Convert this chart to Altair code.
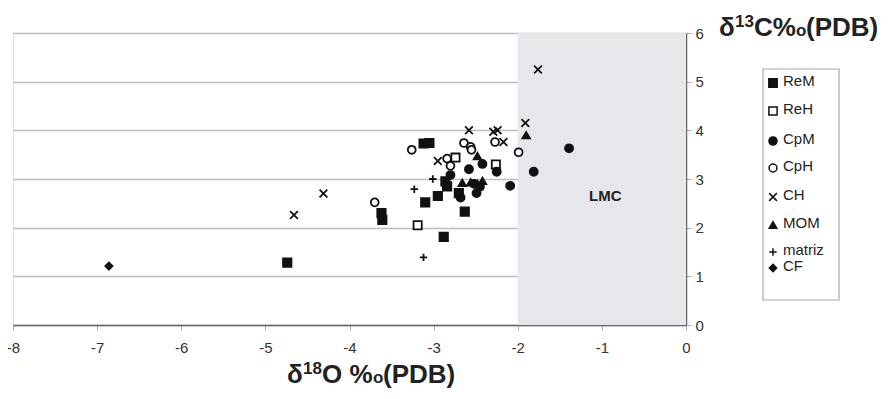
import altair as alt
import pandas as pd

# ---- data ----
series = ["ReM", "ReH", "CpM", "CpH", "CH", "MOM", "matriz", "CF"]

rem_x = [-4.74, -3.62, -3.61, -3.12, -3.05, -3.10, -2.95, -2.63, -2.88, -2.70, -2.86, -2.84]
rem_y = [1.28, 2.30, 2.16, 3.73, 3.74, 2.52, 2.65, 2.33, 1.81, 2.71, 2.95, 2.85]
reh_x = [-3.19, -2.74, -2.26]
reh_y = [2.05, 3.44, 3.30]
cpm_x = [-1.39, -1.81, -2.09, -2.58, -2.42, -2.25, -2.52, -2.45, -2.49, -2.80, -2.68]
cpm_y = [3.63, 3.15, 2.86, 3.20, 3.31, 3.15, 2.90, 2.84, 2.71, 3.08, 2.62]
cph_x = [-3.26, -3.70, -2.64, -2.56, -2.55, -2.27, -1.99, -2.84, -2.80]
cph_y = [3.60, 2.52, 3.74, 3.66, 3.60, 3.76, 3.55, 3.42, 3.27]
ch_x = [-4.66, -4.31, -2.95, -2.58, -2.29, -2.24, -2.17, -1.91, -1.76]
ch_y = [2.26, 2.70, 3.37, 4.00, 3.97, 4.00, 3.76, 4.15, 5.25]
mom_x = [-1.90, -2.48, -2.66, -2.56, -2.48, -2.42]
mom_y = [3.90, 3.47, 2.92, 2.93, 2.90, 2.96]
matriz_x = [-3.23, -3.01, -3.12]
matriz_y = [2.79, 3.00, 1.39]
cf_x = [-6.86]
cf_y = [1.21]

x_ticks = [-8, -7, -6, -5, -4, -3, -2, -1, 0]
y_ticks = [0, 1, 2, 3, 4, 5, 6]
lmc_range = [-2, 0]

# ---- build tables ----
groups = [
    ("ReM", rem_x, rem_y), ("ReH", reh_x, reh_y), ("CpM", cpm_x, cpm_y),
    ("CpH", cph_x, cph_y), ("CH", ch_x, ch_y), ("MOM", mom_x, mom_y),
    ("matriz", matriz_x, matriz_y), ("CF", cf_x, cf_y),
]
rows = []
for name, xs, ys in groups:
    for a, b in zip(xs, ys):
        rows.append({"series": name, "d18O": a, "d13C": b})
df = pd.DataFrame(rows)

X_PATH = "M-1,-1L1,1M-1,1L1,-1"
PLUS_PATH = "M-1,0L1,0M0,-1L0,1"
shape_range = ["square", "square", "circle", "circle", X_PATH, "triangle-up", PLUS_PATH, "diamond"]
fill_range = ["#111", "white", "#111", "white", "#111", "#111", "#111", "#111"]
size_range = [70, 52, 70, 52, 64, 80, 60, 64]
leg_size_range = [26, 26, 30, 24, 30, 44, 32, 36]

FONT = "Liberation Sans"
W, H = 673, 292

xscale = alt.Scale(domain=[-8, 0], nice=False, zero=False)
yscale = alt.Scale(domain=[0, 6], nice=False, zero=False)

xaxis = alt.Axis(values=x_ticks, labelExpr="datum.value + ''", title=None, grid=False,
                 tickSize=5, tickColor="#aaa", tickWidth=1, domainColor="#666", domainWidth=1.5,
                 labelFontSize=15, labelColor="#333", labelFont=FONT, labelPadding=10,
                 labelFlush=False)
yaxis = alt.Axis(orient="right", values=y_ticks, title=None, grid=True, gridColor="#bdbdbd",
                 gridWidth=1.5, tickSize=5, tickColor="#aaa", domainColor="#666", domainWidth=1.5,
                 labelFontSize=15, labelColor="#333", labelFont=FONT, labelPadding=4,
                 labelFlush=False)

band = alt.Chart(pd.DataFrame({"a": [lmc_range[0]], "b": [lmc_range[1]],
                               "c": [y_ticks[0]], "d": [y_ticks[-1]]})).mark_rect(
    color="#e6e7eb").encode(
    x=alt.X("a:Q", scale=xscale, axis=xaxis),
    x2="b:Q",
    y=alt.Y("c:Q", scale=yscale, axis=yaxis),
    y2="d:Q",
)

pts = alt.Chart(df).mark_point(opacity=1, strokeWidth=1.8, stroke="#111").encode(
    x=alt.X("d18O:Q", scale=xscale, axis=xaxis),
    y=alt.Y("d13C:Q", scale=yscale, axis=yaxis),
    shape=alt.Shape("series:N", scale=alt.Scale(domain=series, range=shape_range), legend=None),
    fill=alt.Fill("series:N", scale=alt.Scale(domain=series, range=fill_range), legend=None),
    size=alt.Size("series:N", scale=alt.Scale(domain=series, range=size_range), legend=None),
)

lmc = alt.Chart(pd.DataFrame({"x": [-0.96], "y": [2.65], "t": ["LMC"]})).mark_text(
    font=FONT, fontSize=15, fontWeight="bold", color="#222").encode(
    x=alt.X("x:Q", scale=xscale, axis=xaxis),
    y=alt.Y("y:Q", scale=yscale, axis=yaxis),
    text="t:N",
)

# ---- manual legend ----
leg_rows_y = [50, 78, 108, 135, 164, 192, 219, 235]
leg_df = pd.DataFrame({"series": series, "ly": leg_rows_y, "lx": [760] * len(series),
                       "tx": [770] * len(series)})
leg_box = alt.Chart(pd.DataFrame({"a": [0]})).mark_rect(
    fill="white", stroke="#aaa", strokeWidth=1.2).encode(
    x=alt.value(750), x2=alt.value(826), y=alt.value(36), y2=alt.value(267))
leg_pts = alt.Chart(leg_df).mark_point(opacity=1, strokeWidth=1.5, stroke="#111").encode(
    x=alt.X("lx:Q", scale=None),
    y=alt.Y("ly:Q", scale=None),
    shape=alt.Shape("series:N", scale=alt.Scale(domain=series, range=shape_range), legend=None),
    fill=alt.Fill("series:N", scale=alt.Scale(domain=series, range=fill_range), legend=None),
    size=alt.Size("series:N", scale=alt.Scale(domain=series, range=leg_size_range), legend=None),
)
leg_txt = alt.Chart(leg_df).mark_text(align="left", baseline="middle", font=FONT,
                                      fontSize=15, color="#222", dy=-2).encode(
    x=alt.X("tx:Q", scale=None),
    y=alt.Y("ly:Q", scale=None),
    text="series:N",
)

# ---- axis titles (with superscripts) ----
def title_piece(text, x, y, size):
    return alt.Chart(pd.DataFrame({"t": [text]})).mark_text(
        align="left", baseline="alphabetic", font=FONT, fontSize=size,
        fontWeight="bold", color="#222").encode(
        x=alt.value(x), y=alt.value(y), text="t:N")

BIG, SMALL, RAISE = 26, 17, 9
XT0, XTB = 274, 350
YT0, YTB = 706, 3
titles = [
    title_piece("δ", XT0, XTB, BIG),
    title_piece("18", XT0 + 16, XTB - RAISE, SMALL),
    title_piece("O %", XT0 + 35, XTB, BIG),
    title_piece("o", XT0 + 86, XTB, SMALL),
    title_piece("(PDB)", XT0 + 96, XTB, BIG),
    title_piece("δ", YT0, YTB, BIG),
    title_piece("13", YT0 + 16, YTB - RAISE, SMALL),
    title_piece("C%", YT0 + 35, YTB, BIG),
    title_piece("o", YT0 + 77, YTB, SMALL),
    title_piece("(PDB)", YT0 + 87, YTB, BIG),
]

chart = alt.layer(band, pts, lmc, leg_box, leg_pts, leg_txt, *titles).properties(
    width=W, height=H,
    autosize=alt.AutoSizeParams(type="none"),
    padding={"left": 5, "top": 25, "right": 194, "bottom": 66},
).configure_view(stroke="#9a9a9a", strokeWidth=1.5).configure(background="white")

chart.save("out.html", embed_options={"renderer": "svg", "actions": False})
